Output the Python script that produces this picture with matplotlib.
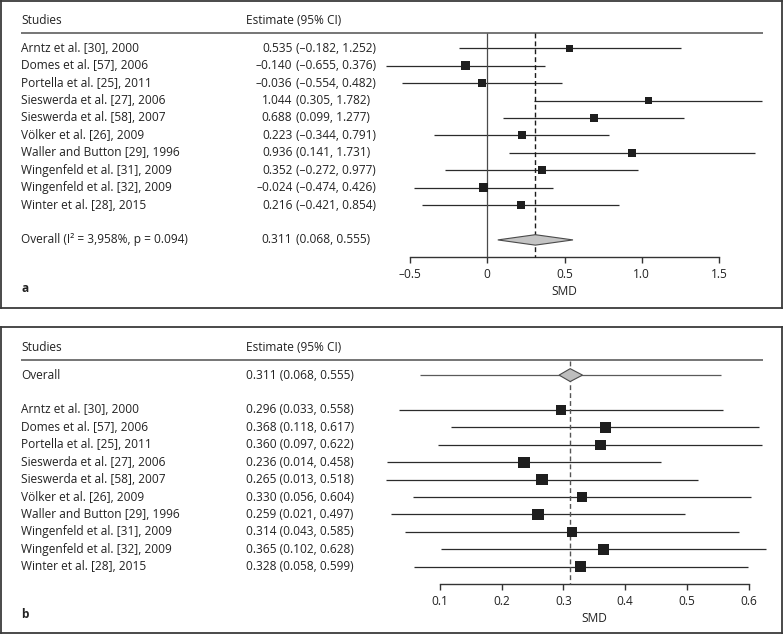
import matplotlib.pyplot as plt
from matplotlib import transforms
from matplotlib.patches import Polygon

plt.rcParams["font.family"] = ["Open Sans", "DejaVu Sans"]

W, H = 784, 635
FONT_SIZE = 8.6
TEXT_COLOR = "#222222"

studies = [
    "Arntz et al. [30], 2000",
    "Domes et al. [57], 2006",
    "Portella et al. [25], 2011",
    "Sieswerda et al. [27], 2006",
    "Sieswerda et al. [58], 2007",
    "Völker et al. [26], 2009",
    "Waller and Button [29], 1996",
    "Wingenfeld et al. [31], 2009",
    "Wingenfeld et al. [32], 2009",
    "Winter et al. [28], 2015",
]

# panel a: individual study effects
est_a = [0.535, -0.140, -0.036, 1.044, 0.688, 0.223, 0.936, 0.352, -0.024, 0.216]
lo_a = [-0.182, -0.655, -0.554, 0.305, 0.099, -0.344, 0.141, -0.272, -0.474, -0.421]
hi_a = [1.252, 0.376, 0.482, 1.782, 1.277, 0.791, 1.731, 0.977, 0.426, 0.854]
overall_label_a = "Overall (I² = 3,958%, p = 0.094)"
overall_a = [0.311, 0.068, 0.555]
ticks_a = [-0.5, 0, 0.5, 1.0, 1.5]
tick_labels_a = ["–0.5", "0", "0.5", "1.0", "1.5"]

# panel b: leave-one-out estimates
est_b = [0.296, 0.368, 0.360, 0.236, 0.265, 0.330, 0.259, 0.314, 0.365, 0.328]
lo_b = [0.033, 0.118, 0.097, 0.014, 0.013, 0.056, 0.021, 0.043, 0.102, 0.058]
hi_b = [0.558, 0.617, 0.622, 0.458, 0.518, 0.604, 0.497, 0.585, 0.628, 0.599]
overall_b = [0.311, 0.068, 0.555]
diamond_b = [0.293, 0.331]
ticks_b = [0.1, 0.2, 0.3, 0.4, 0.5, 0.6]
tick_labels_b = ["0.1", "0.2", "0.3", "0.4", "0.5", "0.6"]

# square sides in pixels
square_px_a = [7.0, 8.8, 8.0, 6.8, 8.0, 7.8, 7.4, 7.8, 8.4, 8.0]
square_px_b = [10.8, 11.2, 10.4, 11.2, 11.4, 10.8, 11.4, 10.6, 10.8, 10.6]

ROW_PITCH = 17.42


def fmt(v):
    return f"{v:.3f}".replace("-", "–")


def make_panel(fig, box, x_ref, x_ref_px, px_per_unit, row0_px):
    left, top, right, bottom = box
    ax = fig.add_axes([left / W, 1 - bottom / H, (right - left) / W, (bottom - top) / H])
    ax.set_xlim((left - x_ref_px) / px_per_unit + x_ref, (right - x_ref_px) / px_per_unit + x_ref)
    ax.set_ylim((bottom - row0_px) / ROW_PITCH, (top - row0_px) / ROW_PITCH)
    ax.set_xticks([])
    ax.set_yticks([])
    for spine in ax.spines.values():
        spine.set_color("#3a3a3a")
        spine.set_linewidth(1.3)
    ax.px = lambda p: (p - left) / (right - left)
    ax.tx = transforms.blended_transform_factory(ax.transAxes, ax.transData)
    return ax


def add_header(ax):
    ax.text(ax.px(21), -1.6, "Studies", transform=ax.tx, ha="left", va="center",
            fontsize=FONT_SIZE, color=TEXT_COLOR)
    ax.text(ax.px(245.5), -1.6, "Estimate (95% CI)", transform=ax.tx, ha="left",
            va="center", fontsize=FONT_SIZE, color=TEXT_COLOR)
    ax.plot([ax.px(20.5), ax.px(763)], [-0.85, -0.85], transform=ax.tx,
            color="#6a6a6a", lw=1.3, solid_capstyle="butt")


def add_axis(ax, ticks, labels, axis_row, letter):
    y0, y1 = ax.get_ylim()
    sec = ax.secondary_xaxis((y0 - axis_row) / (y0 - y1))
    sec.set_xticks(ticks, labels)
    sec.spines["bottom"].set_bounds(ticks[0], ticks[-1])
    sec.spines["bottom"].set_color("#333333")
    sec.spines["bottom"].set_linewidth(1.0)
    sec.tick_params(axis="x", direction="out", length=4.5, width=1.0, pad=3,
                    colors="#333333", labelsize=FONT_SIZE, labelcolor=TEXT_COLOR)
    ax.text((ticks[0] + ticks[-1]) / 2, axis_row + 1.95, "SMD", ha="center", va="center",
            fontsize=FONT_SIZE, color=TEXT_COLOR)
    ax.text(ax.px(21), axis_row + 1.77, letter, transform=ax.tx, ha="left", va="center",
            fontsize=FONT_SIZE, fontweight="bold", color=TEXT_COLOR)


fig = plt.figure(figsize=(W / 100, H / 100), dpi=100)

# ---- panel a ----
ax = make_panel(fig, (1, 1, 782, 308), 0.0, 487.3, 154.4, 48.3)
add_header(ax)
rows_a = list(range(len(studies)))
overall_row_a = len(studies) + 1
for i, name in enumerate(studies):
    ax.text(ax.px(21), rows_a[i], name, transform=ax.tx, ha="left", va="center",
            fontsize=FONT_SIZE, color=TEXT_COLOR)
    ax.text(ax.px(292.5), rows_a[i], fmt(est_a[i]), transform=ax.tx, ha="right",
            va="center", fontsize=FONT_SIZE, color=TEXT_COLOR)
    ax.text(ax.px(295.5), rows_a[i], f"({fmt(lo_a[i])}, {fmt(hi_a[i])})", transform=ax.tx,
            ha="left", va="center", fontsize=FONT_SIZE, color=TEXT_COLOR)
ax.hlines(rows_a, lo_a, hi_a, color="#2b2b2b", lw=0.9)
ax.scatter(est_a, rows_a, marker="s", s=[(p * 0.72) ** 2 for p in square_px_a],
           color="#1e1e1e", lw=0, zorder=3)
ax.text(ax.px(21), overall_row_a, overall_label_a, transform=ax.tx, ha="left", va="center",
        fontsize=FONT_SIZE, color=TEXT_COLOR)
ax.text(ax.px(292.5), overall_row_a, fmt(overall_a[0]), transform=ax.tx, ha="right",
        va="center", fontsize=FONT_SIZE, color=TEXT_COLOR)
ax.text(ax.px(295.5), overall_row_a, f"({fmt(overall_a[1])}, {fmt(overall_a[2])})",
        transform=ax.tx, ha="left", va="center", fontsize=FONT_SIZE, color=TEXT_COLOR)
ax.add_patch(Polygon([(overall_a[1], overall_row_a), (overall_a[0], overall_row_a - 0.3),
                      (overall_a[2], overall_row_a), (overall_a[0], overall_row_a + 0.3)],
                     closed=True, facecolor="#c4c4c4", edgecolor="#4a4a4a", lw=0.8, zorder=3))
ax.vlines(0, -0.85, 12, color="#4a4a4a", lw=0.9)
ax.vlines(overall_a[0], -0.85, 12, color="#1a1a1a", lw=1.0, linestyles=(0, (3.5, 2.2)))
add_axis(ax, ticks_a, tick_labels_a, 12, "a")

# ---- panel b ----
bx = make_panel(fig, (1, 327, 782, 633), 0.1, 440.0, 617.0, 375.1)
add_header(bx)
rows_b = [i + 2 for i in range(len(studies))]
bx.text(bx.px(21), 0, "Overall", transform=bx.tx, ha="left", va="center",
        fontsize=FONT_SIZE, color=TEXT_COLOR)
bx.text(bx.px(245.5), 0, f"{fmt(overall_b[0])} ({fmt(overall_b[1])}, {fmt(overall_b[2])})",
        transform=bx.tx, ha="left", va="center", fontsize=FONT_SIZE, color=TEXT_COLOR)
for i, name in enumerate(studies):
    bx.text(bx.px(21), rows_b[i], name, transform=bx.tx, ha="left", va="center",
            fontsize=FONT_SIZE, color=TEXT_COLOR)
    bx.text(bx.px(245.5), rows_b[i], f"{fmt(est_b[i])} ({fmt(lo_b[i])}, {fmt(hi_b[i])})",
            transform=bx.tx, ha="left", va="center", fontsize=FONT_SIZE, color=TEXT_COLOR)
bx.hlines(0, overall_b[1], overall_b[2], color="#5a5a5a", lw=0.9)
bx.hlines(rows_b, lo_b, hi_b, color="#2b2b2b", lw=0.9)
bx.scatter(est_b, rows_b, marker="s", s=[(p * 0.72) ** 2 for p in square_px_b],
           color="#1e1e1e", lw=0, zorder=3)
bx.add_patch(Polygon([(diamond_b[0], 0), (overall_b[0], -0.37),
                      (diamond_b[1], 0), (overall_b[0], 0.37)],
                     closed=True, facecolor="#bdbdbd", edgecolor="#4a4a4a", lw=0.8, zorder=3))
bx.vlines(overall_b[0], -0.81, 12, color="#555555", lw=1.0, linestyles=(0, (3.5, 2.2)))
add_axis(bx, ticks_b, tick_labels_b, 12, "b")

fig.savefig("out.png", dpi=100)
